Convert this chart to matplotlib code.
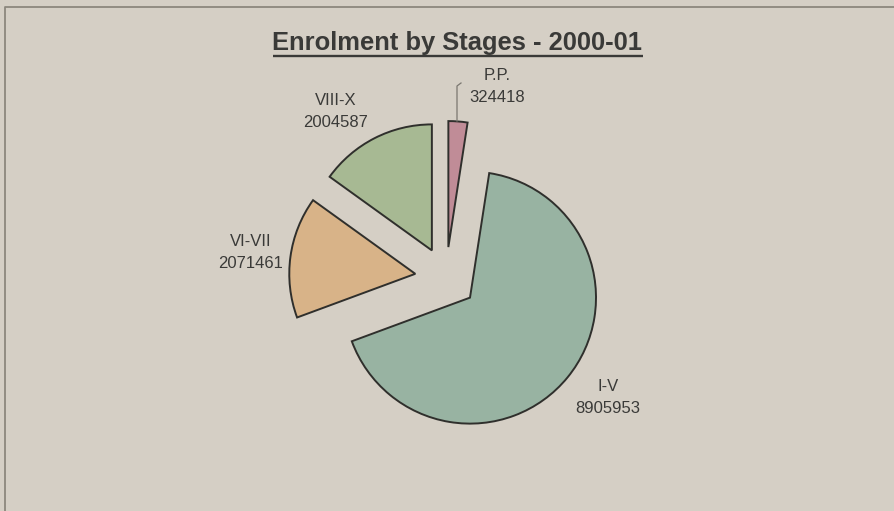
import matplotlib
matplotlib.use("Agg")
import matplotlib.pyplot as plt

stages = ["P.P.", "I-V", "VI-VII", "VIII-X"]
enrolment = [324418, 8905953, 2071461, 2004587]
title = "Enrolment by Stages - 2000-01"

colors = ["#c08c97", "#98b3a2", "#d8b388", "#a7b993"]
bg = "#d5cfc5"
ink = "#3a3a38"

W, H = 894, 511

# label block centres, in pixels from the top left
label_pos = {"P.P.": (497, 86), "I-V": (608, 397),
             "VI-VII": (251, 252), "VIII-X": (336, 111)}


def py(y):
    # pixel row -> data y (axes run bottom-up)
    return H - y


fig = plt.figure(figsize=(W / 100, H / 100), dpi=100)
fig.patch.set_facecolor(bg)
ax = fig.add_axes([0, 0, 1, 1])
ax.set_facecolor(bg)

ax.pie(enrolment, colors=colors, startangle=90, counterclock=False,
       center=(446, py(278)), radius=126, explode=[31] * len(stages),
       wedgeprops=dict(edgecolor="#2f2f2c", linewidth=1.4))

ax.set_xlim(0, W)
ax.set_ylim(0, H)
ax.set_aspect("auto")
ax.axis("off")

# outer frame (top and left edges only show)
ax.plot([5, 5, W], [0, py(7), py(7)], color="#8c877e", lw=1.3)

t = ax.text(457.5, py(50), title, ha="center", va="baseline",
            fontsize=18.4, fontweight="bold", family="Liberation Sans", color=ink)
fig.canvas.draw()
bb = t.get_window_extent().transformed(ax.transData.inverted())
ax.plot([bb.x0, bb.x1], [py(56), py(56)], color=ink, lw=1.7, solid_capstyle="butt")

for name, val in zip(stages, enrolment):
    cx, cy = label_pos[name]
    ax.text(cx, py(cy - 11), name, ha="center", va="center",
            fontsize=12, family="Liberation Sans", color=ink)
    ax.text(cx, py(cy + 11), str(val), ha="center", va="center",
            fontsize=12, family="Liberation Sans", color=ink)

# leader for the thin P.P. slice
ax.plot([457, 457, 461], [py(121), py(86), py(83)], color="#7a7770", lw=0.9)

fig.savefig("out.png", dpi=100, facecolor=bg)
